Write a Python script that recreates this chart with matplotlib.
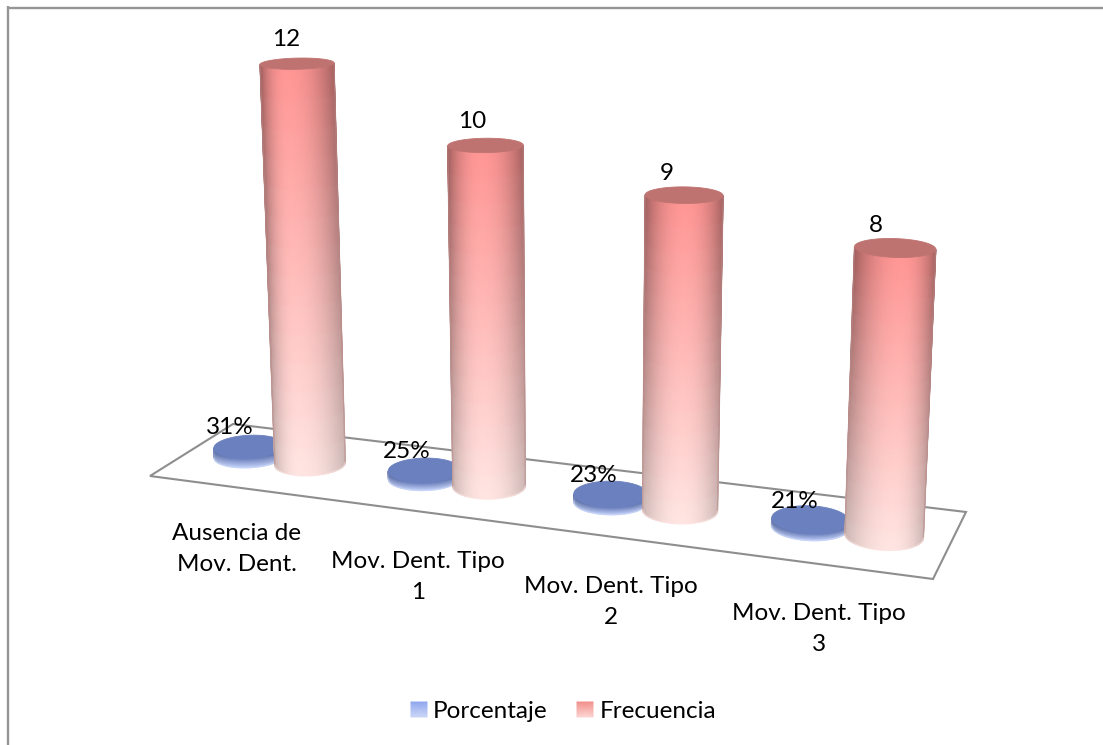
import numpy as np
import matplotlib
matplotlib.use("Agg")
import matplotlib.pyplot as plt
from matplotlib.patches import Polygon

plt.rcParams['font.family'] = ['Lato', 'DejaVu Sans']

categories = ["Ausencia de\nMov. Dent.", "Mov. Dent. Tipo\n1", "Mov. Dent. Tipo\n2", "Mov. Dent. Tipo\n3"]
porcentaje = [31, 25, 23, 21]
frecuencia = [12, 10, 9, 8]
series_names = ["Porcentaje", "Frecuencia"]

W, H = 1103, 745
fig = plt.figure(figsize=(W / 100, H / 100), dpi=100, facecolor="white")
ax = fig.add_axes([0, 0, 1, 1])
ax.set_xlim(0, W)
ax.set_ylim(H, 0)
ax.axis("off")

# Camera: homography of the floor plane plus a vanishing point for the vertical axis
FLOOR = np.array([[233, 424], [966, 512], [933, 579], [150, 476]], float)


def floor_homography(pts):
    src = [(0, 0), (1, 0), (1, 1), (0, 1)]
    A, b = [], []
    for (a, c), (x, y) in zip(src, pts):
        A.append([a, c, 1, 0, 0, 0, -a * x, -c * x])
        A.append([0, 0, 0, a, c, 1, -a * y, -c * y])
        b += [x, y]
    return np.append(np.linalg.solve(np.array(A), np.array(b)), 1).reshape(3, 3)


HOM = floor_homography(FLOOR)
VERT = np.array([575.0, 8606.0, 1.0])
Z_SCALE = -0.00369


def project(u, v, z):
    u, v, z = np.broadcast_arrays(np.asarray(u, float), np.asarray(v, float), np.asarray(z, float))
    pts = HOM @ np.stack([u.ravel() / 4, v.ravel(), np.ones(u.size)])
    pts = pts + np.outer(VERT, z.ravel() * Z_SCALE)
    return (pts[0] / pts[2]).reshape(u.shape), (pts[1] / pts[2]).reshape(u.shape)


RU, RV = 0.182, 0.205
THETA = np.linspace(0, 2 * np.pi, 721)[:-1]


def front_arc(cu, cv, n=49):
    # Angles of the visible half of the cylinder, between its silhouette edges
    x, _ = project(cu + RU * np.cos(THETA), cv + RV * np.sin(THETA), 0)
    right = THETA[np.argmax(x)]
    left = THETA[np.argmin(x)]
    if right > np.pi:
        right -= 2 * np.pi
    return np.linspace(right, left, n)


def cylinder(cu, cv, height, col_top, col_bottom, cap, s0, edge_top, edge_bottom, zorder):
    arc = front_arc(cu, cv)
    fr = np.linspace(0, 1, 15)
    uu = cu + RU * np.cos(arc)
    vv = cv + RV * np.sin(arc)
    U = np.tile(uu, (fr.size, 1))
    V = np.tile(vv, (fr.size, 1))
    Z = np.outer(fr, np.full(arc.size, height))
    X, Y = project(U, V, Z)

    mid = X[fr.size // 2]
    s = 2 * (mid - mid.min()) / (mid.max() - mid.min()) - 1
    d = np.where(s > s0, (s - s0) / (1 - s0), (s0 - s) / (1 + s0))
    edge = edge_bottom + (edge_top - edge_bottom) * fr[:, None]
    shade = 1 - edge * d[None, :] ** 2.2
    base = np.array(col_bottom) + (np.array(col_top) - np.array(col_bottom)) * fr[:, None]
    rgb = np.clip(base[:, None, :] * shade[:, :, None], 0, 1)
    ax.pcolormesh(X, Y, rgb, shading="gouraud", zorder=zorder, rasterized=False)

    # Soft silhouette edges over the mesh
    for j in (0, -1):
        ax.plot(X[:, j], Y[:, j], color=tuple(rgb[rgb.shape[0] // 2, j]), lw=1.0, alpha=0.55, zorder=zorder + 0.1)
    ax.plot(X[0], Y[0], color=tuple(rgb[0, rgb.shape[1] // 2]), lw=1.0, alpha=0.55, zorder=zorder + 0.1)

    tx, ty = project(cu + RU * np.cos(THETA), cv + RV * np.sin(THETA), height)
    ax.add_patch(Polygon(np.c_[tx, ty], closed=True, fc=cap, ec=cap, lw=0.6, zorder=zorder + 0.2))
    return tx, ty


def rgb01(*c):
    return tuple(v / 255 for v in c)


# Floor outline
ax.add_patch(Polygon(FLOOR, closed=True, fc="white", ec="#8e8e8e", lw=1.5, zorder=1))

# Chart frame: top and left rules only
ax.plot([7.5, W], [7.5, 7.5], color="#959595", lw=1.7, solid_capstyle="butt", zorder=1)
ax.plot([7.5, 7.5], [6.3, H], color="#959595", lw=1.7, solid_capstyle="butt", zorder=1)

U_BLUE = 0.335
U_RED = 0.69
V_MID = 0.5
FONT = 17.5
pct_label = [(230, 427), (407, 451), (594, 475), (795, 501)]
frq_label = [(286, 39), (472, 122), (667, 174), (876, 226)]
cat_label = [(237, 549), (418, 577), (611, 602), (819, 629)]

for i, (p, f) in enumerate(zip(porcentaje, frecuencia)):
    zo = 2 + i
    s0 = -0.3 + 0.16 * i
    cylinder(i + U_BLUE, V_MID, p / 100, rgb01(107, 128, 190), rgb01(205, 218, 255),
             "#6b80be", s0, 0.12, 0.12, zo)
    cylinder(i + U_RED, V_MID, f, rgb01(255, 150, 148), rgb01(255, 230, 227),
             "#bf7371", s0, 0.36, 0.2, zo + 0.5)
    ax.text(*pct_label[i], f"{p}%", ha="center", va="center", fontsize=FONT, color="black", zorder=20)
    ax.text(*frq_label[i], str(f), ha="center", va="center", fontsize=FONT, color="black", zorder=20)
    ax.text(*cat_label[i], categories[i], ha="center", va="center", fontsize=FONT, color="black",
            linespacing=1.62, zorder=20)

# Legend swatches with vertical gradient, and their labels
swatches = [((411, 427), rgb01(143, 166, 238), rgb01(205, 216, 246)),
            ((577, 593), rgb01(242, 143, 139), rgb01(251, 214, 211))]
for (x0, x1), top, bottom in swatches:
    sx, sy = np.meshgrid([x0, x1], [702, 717])
    ax.pcolormesh(sx, sy, np.array([[top, top], [bottom, bottom]]), shading="gouraud", zorder=5)
ax.text(433, 711, series_names[0], ha="left", va="center", fontsize=FONT, color="black")
ax.text(600, 711, series_names[1], ha="left", va="center", fontsize=FONT, color="black")

fig.savefig("out.png", dpi=100, facecolor="white")
